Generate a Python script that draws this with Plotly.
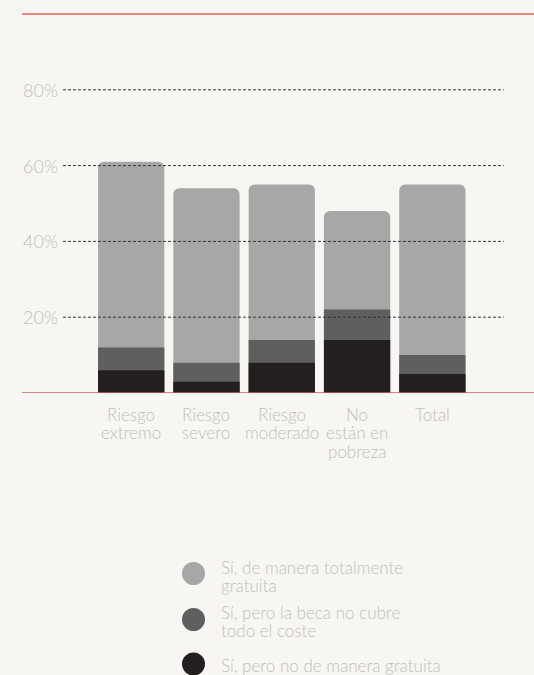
import plotly.graph_objects as go

categories = ["Riesgo<br>extremo", "Riesgo<br>severo", "Riesgo<br>moderado", "No<br>están en<br>pobreza", "Total"]
# segment values (%)
no_gratuita = [6, 3, 8, 14, 5]
beca_parcial = [6, 5, 6, 8, 5]
gratuita = [49, 46, 41, 26, 45]
series_names = ["Sí, de manera totalmente<br>gratuita", "Sí, pero la beca no cubre<br>todo el coste", "Sí, pero no de manera gratuita"]
y_ticks = [20, 40, 60, 80]
y_tick_labels = ["20%", "40%", "60%", "80%"]

BG = "#f7f6f2"
C_LIGHT = "#a6a7a6"
C_MID = "#5f5f5f"
C_DARK = "#231f20"
TXT = "#c0c0c0"
FONT = "Lato Light, Lato Hairline, Lato"

cum1 = no_gratuita
cum2 = [a + b for a, b in zip(no_gratuita, beca_parcial)]
cum3 = [a + b for a, b in zip(cum2, gratuita)]

xs = list(range(len(categories)))
fig = go.Figure()
for vals, col, name in [(cum3, C_LIGHT, series_names[0]), (cum2, C_MID, series_names[1]), (cum1, C_DARK, series_names[2])]:
    fig.add_trace(go.Bar(x=xs, y=vals, marker=dict(color=col, line=dict(width=0)), width=0.88,
                         name=name, showlegend=False, hoverinfo="skip"))

shapes = []
annotations = []
# dashed gridlines
for t in y_ticks:
    shapes.append(dict(type="line", xref="paper", yref="y", x0=0.080, x1=0.941, y0=t, y1=t,
                       line=dict(color="#333333", width=1, dash="3px,2px")))
# top line and baseline
shapes.append(dict(type="line", xref="paper", yref="paper", x0=0, x1=1, y0=1, y1=1,
                   line=dict(color="#e88585", width=2)))
shapes.append(dict(type="line", xref="paper", yref="y", x0=0, x1=1, y0=0, y1=0,
                   line=dict(color="#d65a5a", width=1.5)))

# y tick labels
for t, lab in zip(y_ticks, y_tick_labels):
    annotations.append(dict(x=0, xref="paper", y=t, yref="y", text=lab, showarrow=False,
                            xanchor="left", yanchor="middle", xshift=-1,
                            font=dict(family=FONT, size=18, color=TXT, weight=300)))

# x labels, line by line
for i, cat in enumerate(categories):
    for j, line in enumerate(cat.split("<br>")):
        annotations.append(dict(x=i, xref="x", y=0, yref="y", text=line, showarrow=False,
                                xanchor="center", yanchor="middle", yshift=-21 - 18.5 * j,
                                font=dict(family=FONT, size=17, color=TXT, weight=300)))

# custom legend
leg_colors = [C_LIGHT, C_MID, C_DARK]
leg_y = [573.5, 619.5, 664]
text_y = [576, 621, 665]
for name, col, cy, ty in zip(series_names, leg_colors, leg_y, text_y):
    shapes.append(dict(type="circle", xref="paper", yref="paper",
                       x0=(182 - 22) / 512, x1=(205 - 22) / 512,
                       y0=(393 - cy - 11.5) / 379, y1=(393 - cy + 11.5) / 379,
                       fillcolor=col, line=dict(width=0)))
    lines = name.split("<br>")
    n = len(lines)
    for j, line in enumerate(lines):
        yy = ty + (j - (n - 1) / 2) * 18
        annotations.append(dict(x=(219 - 22) / 512, xref="paper", y=(393 - yy) / 379, yref="paper",
                                text=line, showarrow=False, xanchor="left", yanchor="middle",
                                font=dict(family=FONT, size=17, color=TXT, weight=300)))

fig.update_layout(
    width=534, height=675,
    margin=dict(l=22, r=0, t=14, b=282),
    paper_bgcolor=BG, plot_bgcolor=BG,
    barmode="overlay", barcornerradius=6,
    xaxis=dict(range=[-1.45, 5.35], showticklabels=False, showgrid=False, zeroline=False, showline=False, fixedrange=True),
    yaxis=dict(range=[0, 100], showticklabels=False, showgrid=False, zeroline=False, showline=False, fixedrange=True),
    shapes=shapes, annotations=annotations,
    showlegend=False,
)
fig.write_html("out.html", config={"displayModeBar": False},
               post_script="document.body.style.margin='0';document.body.style.padding='0';document.body.style.overflow='hidden';document.body.style.background='#f7f6f2';")
